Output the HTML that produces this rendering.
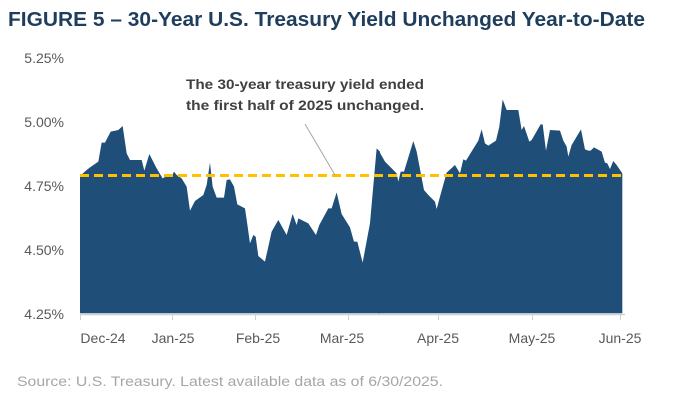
<!DOCTYPE html>
<html><head><meta charset="utf-8"><style>
body{margin:0;width:680px;height:400px;background:#fff;overflow:hidden;font-family:"Liberation Sans",sans-serif}
</style></head><body>
<svg width="680" height="400" xmlns="http://www.w3.org/2000/svg" font-family="Liberation Sans, sans-serif">
<text x="8" y="26" font-size="20" font-weight="bold" fill="#1f3d5c" textLength="637" lengthAdjust="spacingAndGlyphs">FIGURE 5 – 30-Year U.S. Treasury Yield Unchanged Year-to-Date</text>
<g font-size="14" fill="#595959" text-anchor="end">
<text x="64" y="63">5.25%</text><text x="64" y="127">5.00%</text><text x="64" y="191">4.75%</text><text x="64" y="255">4.50%</text><text x="64" y="319">4.25%</text>
</g>
<g fill="#1f4e79">
<polygon transform="translate(80,90) scale(0.3333)" points="0,670 0,258 20,240 30,232 55,215 65,158 75,158 92,125 115,120 128,108 140,190 150,210 185,210 193,242 208,192 230,235 248,265 260,258 275,260 282,245 290,255 305,265 320,290 330,362 345,333 370,315 380,285 390,218 398,290 410,323 432,323 440,270 450,268 462,290 472,343 495,355 503,410 510,460 520,435 527,440 535,498 555,515 575,425 595,390 620,435 638,372 650,405 655,385 685,400 708,435 718,405 745,355 755,355 770,307 785,372 810,412 822,455 832,455 848,518 870,400 890,175 900,185 900,670"/>
<polygon transform="translate(350,90) scale(0.3333)" points="85,670 85,180 105,215 140,250 145,275 152,245 162,245 190,153 200,185 222,300 235,315 255,335 260,357 270,320 290,248 315,225 330,250 340,208 348,212 385,152 395,118 405,160 415,167 438,152 448,110 458,28 470,60 505,60 515,120 522,108 538,155 545,150 572,103 578,103 588,182 600,120 630,122 640,152 650,170 655,200 665,165 693,118 705,178 715,182 722,182 732,172 755,185 765,218 772,220 780,237 790,213 800,225 817,250 817,670"/>
</g>
<line x1="80" y1="314.5" x2="625" y2="314.5" stroke="#d0d0d0" stroke-width="1.5"/>
<g stroke="#d0d0d0" stroke-width="1">
<line x1="80.5" y1="314" x2="80.5" y2="320"/><line x1="172.5" y1="314" x2="172.5" y2="320"/><line x1="255.5" y1="314" x2="255.5" y2="320"/><line x1="348.5" y1="314" x2="348.5" y2="320"/><line x1="438.5" y1="314" x2="438.5" y2="320"/><line x1="532.5" y1="314" x2="532.5" y2="320"/><line x1="620.5" y1="314" x2="620.5" y2="320"/>
</g>
<line x1="80" y1="175.5" x2="625" y2="175.5" stroke="#ffc000" stroke-width="3" stroke-dasharray="9,5"/>
<line x1="305" y1="124" x2="335" y2="175" stroke="#a6a6a6" stroke-width="1"/>
<g font-size="14" font-weight="bold" fill="#404040" text-anchor="middle">
<text x="305" y="89" textLength="238" lengthAdjust="spacingAndGlyphs">The 30-year treasury yield ended</text>
<text x="305" y="110" textLength="238" lengthAdjust="spacingAndGlyphs">the first half of 2025 unchanged.</text>
</g>
<g font-size="14" fill="#595959" text-anchor="middle">
<text x="103" y="343">Dec-24</text><text x="173" y="343">Jan-25</text><text x="258" y="343">Feb-25</text><text x="342" y="343">Mar-25</text><text x="438" y="343">Apr-25</text><text x="532" y="343">May-25</text><text x="620" y="343">Jun-25</text>
</g>
<text x="17" y="386" font-size="14" fill="#a6a6a6" textLength="426" lengthAdjust="spacingAndGlyphs">Source: U.S. Treasury. Latest available data as of 6/30/2025.</text>
</svg>
</body></html>
